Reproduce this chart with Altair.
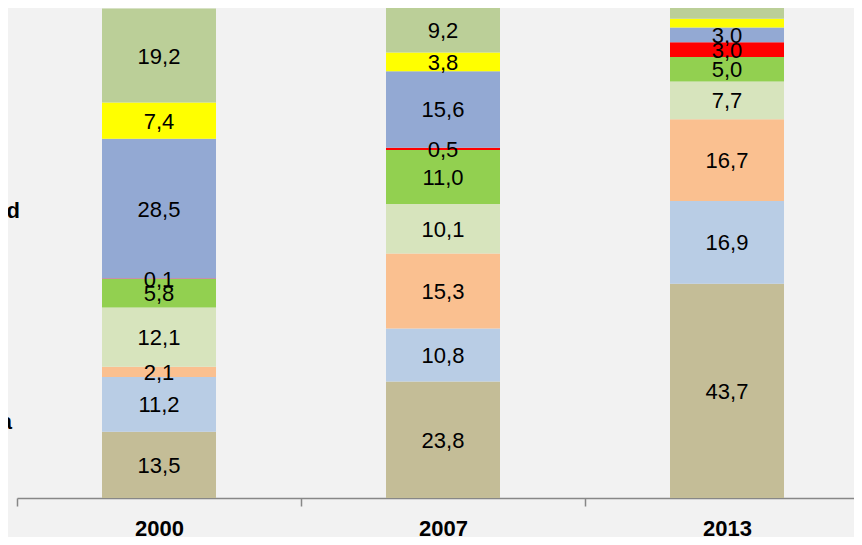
import altair as alt
import pandas as pd

years = ["2000", "2007", "2013"]
series = ["s1", "s2", "s3", "s4", "s5", "s6", "s7", "s8", "s9"]
colors = ["#c4bd97", "#b9cde5", "#fac090", "#d7e4bd", "#92d050",
          "#ff0000", "#93a9d3", "#ffff00", "#bbcf98"]
v2000 = [13.5, 11.2, 2.1, 12.1, 5.8, 0.1, 28.5, 7.4, 19.2]
v2007 = [23.8, 10.8, 15.3, 10.1, 11.0, 0.5, 15.6, 3.8, 9.2]
v2013 = [43.7, 16.9, 16.7, 7.7, 5.0, 3.0, 3.0, 1.8, 2.2]
show2013 = [True, True, True, True, True, True, True, False, False]

rows = []
for yr, vals, show in [("2000", v2000, [True] * 9), ("2007", v2007, [True] * 9),
                       ("2013", v2013, show2013)]:
    for i, (s, v, sh) in enumerate(zip(series, vals, show)):
        rows.append({"year": yr, "series": s, "order": i, "value": v,
                     "label": f"{v:.1f}".replace(".", ",") if sh else ""})
df = pd.DataFrame(rows)

base = alt.Chart(df).transform_stack(
    stack="value", groupby=["year"], as_=["v0", "v1"],
    sort=[alt.SortField("order", order="ascending")]
).transform_calculate(mid="(datum.v0 + datum.v1) / 2")

xscale = alt.Scale(rangeMin=0, rangeMax=852, paddingInner=0, paddingOuter=0)
xenc = alt.X("year:N", sort=years, title=None, scale=xscale,
             axis=alt.Axis(domainColor="#878787", domainWidth=1.5, tickColor="#878787",
                           tickWidth=1.5, tickSize=8, tickBand="extent", labelAngle=0,
                           labelFont="Liberation Sans", labelFontSize=22,
                           labelFontWeight="bold", labelColor="#000000",
                           labelBaseline="alphabetic", labelPadding=29, grid=False))
yscale = alt.Scale(domain=[0, 100], nice=False, zero=True)

bars = base.mark_bar(width=114).encode(
    x=xenc,
    y=alt.Y("v0:Q", scale=yscale, axis=None),
    y2="v1:Q",
    color=alt.Color("series:N", scale=alt.Scale(domain=series, range=colors), legend=None),
)

texts = base.mark_text(font="Liberation Sans", fontSize=22, color="#000000",
                       baseline="middle", dy=1).encode(
    x=alt.X("year:N", sort=years),
    y=alt.Y("mid:Q", scale=yscale),
    text="label:N",
)

side = pd.DataFrame({"t": ["nd", "a"], "yv": [58.5, 15.5], "xo": [3, -5]})
side_txt = alt.Chart(side).mark_text(font="Liberation Sans", fontSize=22,
                                     fontWeight="bold", align="right",
                                     baseline="middle", color="#000000").encode(
    x=alt.X("xo:Q", scale=None),
    y=alt.Y("yv:Q", scale=yscale),
    text="t:N",
)

page_css = ("body{background:#f2f2f2;overflow:hidden}"
            ".vega-embed{display:block}.vega-embed svg{display:block}")

chart = alt.layer(bars, texts, side_txt).properties(
    width=837, height=490,
    padding={"left": 9, "top": 0, "right": 0, "bottom": 39},
    autosize=alt.AutoSizeParams(type="none"),
    background="#f2f2f2",
    usermeta={"embedOptions": {"defaultStyle": page_css}},
).configure_view(stroke=None)

chart.save("out.html", embed_options={"renderer": "svg", "actions": False})
